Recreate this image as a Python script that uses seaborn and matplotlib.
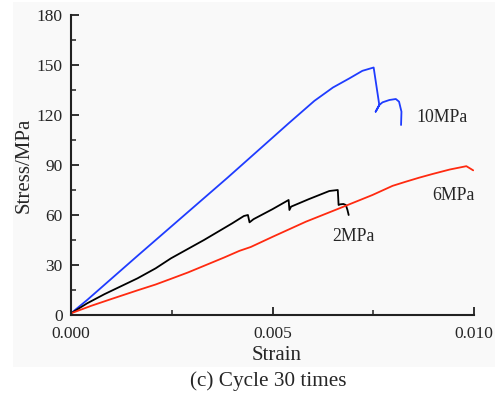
import matplotlib
matplotlib.use("Agg")
import matplotlib.pyplot as plt
from matplotlib.patches import Rectangle
from matplotlib.ticker import MultipleLocator, FormatStrFormatter
import seaborn as sns
import pandas as pd

# ---- data ----
strain_10 = [0, 0.0004, 0.00165, 0.00388, 0.00468, 0.00540, 0.00604, 0.00650, 0.00691, 0.00723,
             0.00751, 0.00765, 0.00756, 0.00765, 0.00773, 0.00790, 0.00806, 0.00814, 0.00820, 0.00819]
stress_10 = [1, 9, 35.5, 82.3, 99.5, 115, 128.5, 136.5, 142, 146.5,
             148.5, 126, 122, 126, 127.6, 129, 129.6, 128, 122, 114]

strain_2 = [0, 0.0004, 0.00083, 0.00165, 0.00210, 0.00248, 0.00330, 0.00400, 0.00429, 0.00439, 0.00443,
            0.00453, 0.00500, 0.00540, 0.00542, 0.00546, 0.00590, 0.00641, 0.00662,
            0.00664, 0.00668, 0.00676, 0.00682, 0.00686, 0.00689]
stress_2 = [1, 7, 12.5, 22, 28, 34, 45, 55, 59.4, 60, 55.6,
            57.5, 63.5, 69, 63, 65, 69.5, 74.4, 75,
            66, 66.4, 66.6, 66, 63, 60]

strain_6 = [0, 0.0005, 0.00099, 0.00165, 0.00210, 0.00248, 0.00290, 0.00330, 0.00380, 0.00418, 0.00446,
            0.00501, 0.00583, 0.00666, 0.00748, 0.00798, 0.00831, 0.00864, 0.00897, 0.00940,
            0.00975, 0.00981, 0.00998]
stress_6 = [1, 5.5, 9.5, 14.8, 18.3, 21.7, 25.5, 29.5, 34.5, 38.5, 40.8,
            47, 56, 64, 72, 77.5, 80, 82.4, 84.6, 87.3,
            89, 89.3, 86.8]

series_names = ["10MPa", "2MPa", "6MPa"]
series_colors = ["#1f3cff", "#000000", "#ff2a10"]
x_ticks = [0.000, 0.005, 0.010]
y_ticks = [0, 30, 60, 90, 120, 150, 180]

frames = []
for name, xs, ys in zip(series_names, [strain_10, strain_2, strain_6], [stress_10, stress_2, stress_6]):
    frames.append(pd.DataFrame({"Strain": xs, "Stress": ys, "Series": name}))
df = pd.concat(frames, ignore_index=True)

sns.set_style("ticks")
plt.rcParams["font.family"] = ["Liberation Serif", "DejaVu Serif"]

W, H = 503, 396
fig = plt.figure(figsize=(W / 100, H / 100), dpi=100, facecolor="white")
bg = "#f9f9f9"
fig.patches.append(Rectangle((13 / W, 1 - 367 / H), (495 - 13) / W, (367 - 2) / H,
                             transform=fig.transFigure, facecolor=bg, edgecolor="none", zorder=-10))
ax = fig.add_axes([71 / W, 1 - 315 / H, (474 - 71) / W, (315 - 15) / H])
ax.set_facecolor(bg)

sns.lineplot(data=df, x="Strain", y="Stress", hue="Series", units="Series", estimator=None,
             sort=False, palette=dict(zip(series_names, series_colors)), linewidth=1.3,
             legend=False, ax=ax)

ax.set_xlim(0, 0.010)
ax.set_ylim(0, 180)
ax.set_xticks(x_ticks)
ax.set_yticks(y_ticks)
ax.xaxis.set_minor_locator(MultipleLocator(0.0025))
ax.yaxis.set_minor_locator(MultipleLocator(15))
ax.xaxis.set_major_formatter(FormatStrFormatter("%.3f"))
ax.tick_params(which="major", direction="in", length=6, width=1.3, labelsize=12.5, color="#222222")
ax.tick_params(which="minor", direction="in", length=3.5, width=1.1, color="#222222")
ax.tick_params(axis="x", pad=8)
ax.tick_params(axis="y", pad=6)
for s in ["top", "right"]:
    ax.spines[s].set_visible(False)
for s in ["left", "bottom"]:
    ax.spines[s].set_linewidth(1.5)
    ax.spines[s].set_color("#222222")

ax.set_xlabel("Strain", fontsize=15)
ax.set_ylabel("Stress/MPa", fontsize=15)
ax.xaxis.set_label_coords(0.509, -0.105)
ax.yaxis.set_label_coords(-0.092, 0.5)

ax.text(0.00856, 118.8, "10MPa", fontsize=12.8, va="center", ha="left")
ax.text(0.00896, 71.6, "6MPa", fontsize=12.8, va="center", ha="left")
ax.text(0.00648, 47, "2MPa", fontsize=12.8, va="center", ha="left")

fig.text(268 / W, 1 - 381.5 / H, "(c) Cycle 30 times", fontsize=15.3, ha="center", va="center")

fig.savefig("out.png", dpi=100, facecolor="white")
